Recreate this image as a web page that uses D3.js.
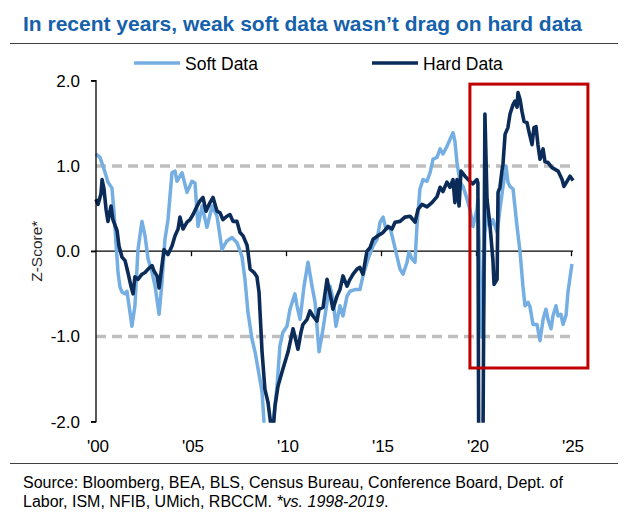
<!DOCTYPE html>
<html><head><meta charset="utf-8">
<script src="https://cdn.jsdelivr.net/npm/d3@7/dist/d3.min.js"></script>
<style>
body{margin:0;background:#fff}
svg{display:block}
text{font-family:"Liberation Sans",Arial,Helvetica,sans-serif}
</style>
</head><body>
<svg id="chart" width="624" height="532"></svg>
<script>
// ---------- DATA ----------
const titleText = "In recent years, weak soft data wasn\u2019t drag on hard data";
const seriesNames = ["Soft Data", "Hard Data"];
const softYears = [2000.00,2000.21,2000.47,2000.63,2000.84,2000.95,2001.05,2001.16,2001.26,2001.37,2001.53,2001.63,2001.79,2001.89,2002.05,2002.21,2002.42,2002.58,2002.74,2002.95,2003.11,2003.32,2003.47,2003.63,2003.79,2004.00,2004.16,2004.26,2004.53,2004.79,2005.05,2005.21,2005.37,2005.58,2005.84,2006.11,2006.37,2006.63,2006.89,2007.16,2007.42,2007.68,2007.84,2008.00,2008.21,2008.37,2008.53,2008.74,2008.84,2009.00,2009.26,2009.53,2009.68,2009.84,2010.05,2010.21,2010.47,2010.58,2010.74,2010.95,2011.16,2011.37,2011.53,2011.74,2011.95,2012.16,2012.32,2012.47,2012.63,2012.84,2013.00,2013.21,2013.37,2013.63,2013.89,2014.05,2014.32,2014.58,2014.79,2014.95,2015.11,2015.26,2015.47,2015.63,2015.84,2016.00,2016.16,2016.37,2016.47,2016.63,2016.79,2016.89,2017.05,2017.21,2017.42,2017.58,2017.74,2017.95,2018.11,2018.26,2018.47,2018.63,2018.79,2018.89,2019.00,2019.16,2019.32,2019.42,2019.53,2019.68,2019.84,2020.05,2020.10,2020.21,2020.32,2020.37,2020.47,2020.63,2020.74,2020.89,2021.11,2021.26,2021.42,2021.58,2021.68,2021.79,2021.95,2022.16,2022.32,2022.47,2022.58,2022.74,2022.84,2023.00,2023.21,2023.37,2023.53,2023.68,2023.79,2023.95,2024.05,2024.21,2024.32,2024.47,2024.58,2024.74,2024.84,2025.05];
const softValues = [1.14,1.10,0.93,0.81,0.74,0.45,0.10,-0.25,-0.42,-0.48,-0.50,-0.47,-0.72,-0.88,-0.64,0.02,0.35,0.18,-0.09,-0.25,-0.41,-0.74,-0.37,0.14,0.37,0.92,0.94,0.82,0.92,0.69,0.82,0.80,0.29,0.53,0.28,0.53,0.41,0.02,0.12,0.16,0.10,-0.06,-0.33,-0.72,-1.03,-1.18,-1.38,-1.65,-2.00,-2.30,-2.15,-1.58,-1.11,-0.95,-0.88,-0.68,-0.50,-0.64,-0.80,-0.41,-0.13,-0.41,-0.60,-1.18,-0.91,-0.60,-0.41,-0.56,-0.88,-0.64,-0.76,-0.53,-0.47,-0.45,-0.45,-0.29,-0.09,0.06,0.14,0.34,0.40,0.26,0.28,0.14,-0.06,-0.21,-0.27,-0.13,-0.01,-0.09,-0.13,0.29,0.73,0.84,0.82,0.92,1.08,1.10,1.20,1.14,1.23,1.31,1.39,1.29,1.04,0.81,0.76,0.69,0.61,0.49,0.29,0.49,0.61,-0.20,-1.01,-0.95,0.22,0.46,0.29,0.37,0.22,0.49,0.76,1.00,0.81,0.76,0.73,0.29,-0.01,-0.41,-0.64,-0.60,-0.65,-0.86,-0.86,-1.05,-0.80,-0.68,-0.80,-0.91,-0.76,-0.64,-0.76,-0.74,-0.86,-0.75,-0.48,-0.15];
const hardYears = [2000.00,2000.11,2000.26,2000.32,2000.42,2000.53,2000.63,2000.79,2000.89,2001.11,2001.21,2001.37,2001.53,2001.68,2001.84,2001.95,2002.05,2002.21,2002.42,2002.58,2002.74,2002.95,2003.05,2003.21,2003.32,2003.47,2003.58,2003.79,2004.00,2004.16,2004.32,2004.42,2004.58,2004.79,2004.95,2005.11,2005.32,2005.47,2005.63,2005.79,2006.00,2006.16,2006.37,2006.53,2006.68,2006.89,2007.05,2007.21,2007.42,2007.58,2007.74,2007.95,2008.00,2008.11,2008.32,2008.47,2008.58,2008.74,2008.89,2009.05,2009.21,2009.32,2009.42,2009.58,2009.84,2010.11,2010.37,2010.47,2010.63,2010.79,2010.89,2011.11,2011.26,2011.42,2011.63,2011.74,2011.95,2012.16,2012.37,2012.47,2012.68,2012.84,2013.00,2013.21,2013.37,2013.53,2013.74,2013.89,2014.05,2014.26,2014.42,2014.58,2014.84,2015.11,2015.37,2015.58,2015.74,2016.00,2016.26,2016.53,2016.79,2016.95,2017.16,2017.42,2017.68,2017.95,2018.11,2018.26,2018.47,2018.63,2018.79,2018.89,2019.00,2019.11,2019.21,2019.42,2019.68,2019.84,2020.05,2020.10,2020.16,2020.32,2020.47,2020.58,2020.74,2020.89,2020.95,2021.11,2021.16,2021.26,2021.37,2021.42,2021.53,2021.68,2021.79,2021.95,2022.05,2022.16,2022.21,2022.32,2022.42,2022.53,2022.68,2022.79,2022.95,2023.05,2023.16,2023.26,2023.37,2023.53,2023.63,2023.79,2024.00,2024.16,2024.32,2024.53,2024.63,2024.79,2024.95,2025.11];
const hardValues = [0.61,0.55,0.67,0.84,0.73,0.49,0.35,0.53,0.37,0.24,0.06,-0.07,-0.11,-0.25,-0.41,-0.50,-0.30,-0.33,-0.27,-0.25,-0.21,-0.17,-0.23,-0.29,-0.43,-0.17,0.02,-0.04,0.06,0.18,0.26,0.40,0.26,0.34,0.37,0.43,0.53,0.59,0.63,0.47,0.57,0.63,0.47,0.45,0.37,0.41,0.43,0.35,0.35,0.22,0.18,0.07,-0.01,-0.21,-0.25,-0.30,-0.48,-1.18,-1.62,-1.77,-2.05,-2.10,-1.82,-1.58,-1.38,-1.18,-0.91,-1.00,-1.15,-0.95,-0.86,-0.80,-0.70,-0.76,-0.82,-0.68,-0.66,-0.33,-0.56,-0.68,-0.53,-0.45,-0.29,-0.41,-0.33,-0.27,-0.21,-0.19,-0.27,0.00,0.04,0.14,0.18,0.22,0.29,0.26,0.34,0.35,0.40,0.41,0.34,0.49,0.55,0.52,0.57,0.64,0.75,0.70,0.81,0.75,0.84,0.57,0.84,0.53,0.94,0.88,0.82,0.79,0.84,0.80,-3.50,-4.00,1.61,0.61,0.29,-0.10,-0.39,-0.33,0.69,0.75,0.95,1.02,1.37,1.45,1.61,1.72,1.76,1.69,1.86,1.78,1.64,1.52,1.51,1.40,1.25,1.45,1.46,1.25,1.08,1.20,1.05,1.04,0.98,0.96,0.94,0.84,0.76,0.82,0.88,0.83];
const xTickYears = [2000, 2005, 2010, 2015, 2020, 2025];
const xTickLabels = ["'00", "'05", "'10", "'15", "'20", "'25"];
const yTickValues = [2, 1, 0, -1, -2];
const yTickLabels = ["2.0", "1.0", "0.0", "-1.0", "-2.0"];
const refLevels = [1, -1];
const highlightYears = [2019.68, 2025.89];
const highlightValues = [1.96, -1.37];
const yAxisTitle = "Z-Score*";
const sourceLine1 = "Source: Bloomberg, BEA, BLS, Census Bureau, Conference Board, Dept. of";
const sourceLine2a = "Labor, ISM, NFIB, UMich, RBCCM. ";
const sourceLine2b = "*vs. 1998-2019";

// ---------- CHART ----------
const svg = d3.select("#chart");
const softColor = "#74aee3", hardColor = "#0b2b58";

const x = d3.scaleLinear().domain([2000, 2025]).range([96, 571]);
const y = d3.scaleLinear().domain([-2, 2]).range([421.7, 80.7]);

// title
svg.append("text").attr("x", 23).attr("y", 31)
  .attr("font-size", 21).attr("font-weight", "bold").attr("fill", "#1661ab")
  .text(titleText);
svg.append("line").attr("x1", 10).attr("x2", 618).attr("y1", 43.5).attr("y2", 43.5)
  .attr("stroke", "#404040").attr("stroke-width", 1);

// legend
const legendX = [134, 372];
const colors = [softColor, hardColor];
seriesNames.forEach((n, i) => {
  svg.append("line").attr("x1", legendX[i]).attr("x2", legendX[i] + 46)
    .attr("y1", 63).attr("y2", 63).attr("stroke", colors[i]).attr("stroke-width", 3.5);
  svg.append("text").attr("x", legendX[i] + 51).attr("y", 69.5)
    .attr("font-size", 17.5).attr("fill", "#000").text(n);
});

// clip
svg.append("clipPath").attr("id", "plotclip").append("rect")
  .attr("x", 90).attr("y", y(2) - 2).attr("width", 510).attr("height", y(-2) - y(2) + 3);

// reference dashed lines
svg.append("g").selectAll("line").data(refLevels).join("line")
  .attr("x1", x(2000)).attr("x2", 575)
  .attr("y1", d => y(d)).attr("y2", d => y(d))
  .attr("stroke", "#bfbfbf").attr("stroke-width", 3.5).attr("stroke-dasharray", "10,6");

// zero line with x ticks
const zeroG = svg.append("g").attr("transform", `translate(0,${y(0)})`);
const xAxis = d3.axisBottom(x).tickValues(xTickYears.slice(1)).tickSize(5).tickFormat("");
zeroG.call(xAxis);
zeroG.select(".domain").attr("d", `M91,0H573`).attr("stroke", "#000").attr("stroke-width", 1.3);
zeroG.selectAll(".tick line").attr("stroke", "#000").attr("stroke-width", 1.3);

// x labels
svg.append("g").selectAll("text").data(xTickYears).join("text")
  .attr("x", (d) => x(d) + 2).attr("y", 452)
  .attr("text-anchor", "middle").attr("font-size", 17).attr("fill", "#000")
  .text((d, i) => xTickLabels[i]);

// lines
const lineGen = d3.line().x(d => x(d[0])).y(d => y(d[1]));
const plot = svg.append("g").attr("clip-path", "url(#plotclip)");
plot.append("path").datum(d3.zip(softYears, softValues))
  .attr("d", lineGen).attr("fill", "none").attr("stroke", softColor)
  .attr("stroke-width", 3.5).attr("stroke-linejoin", "round");
plot.append("path").datum(d3.zip(hardYears, hardValues))
  .attr("d", lineGen).attr("fill", "none").attr("stroke", hardColor)
  .attr("stroke-width", 3.6).attr("stroke-linejoin", "round");

// y axis
const yAxis = d3.axisLeft(y).tickValues(yTickValues).tickSize(5)
  .tickFormat((d, i) => yTickLabels[i]);
const yG = svg.append("g").attr("transform", `translate(${x(2000)},0)`).call(yAxis);
yG.select(".domain").attr("stroke", "#000").attr("stroke-width", 1.3).attr("d", `M-5,${y(2)}H0V${y(-2)}H-5`);
yG.selectAll(".tick line").attr("stroke", (d) => (d === 1 || d === -1) ? "none" : "#000").attr("stroke-width", 1.3);
yG.selectAll(".tick text").attr("x", -16).attr("font-size", 17)
  .attr("font-family", '"Liberation Sans",Arial,sans-serif').attr("fill", "#000");

svg.append("text").attr("transform", `translate(42,${y(0)}) rotate(-90)`)
  .attr("text-anchor", "middle").attr("font-size", 15.5).attr("fill", "#2a2a2a")
  .text(yAxisTitle);

// highlight box
svg.append("rect")
  .attr("x", x(highlightYears[0])).attr("y", y(highlightValues[0]))
  .attr("width", x(highlightYears[1]) - x(highlightYears[0]))
  .attr("height", y(highlightValues[1]) - y(highlightValues[0]))
  .attr("fill", "none").attr("stroke", "#c00000").attr("stroke-width", 3);

// footer
svg.append("line").attr("x1", 10).attr("x2", 618).attr("y1", 463.5).attr("y2", 463.5)
  .attr("stroke", "#404040").attr("stroke-width", 1);
svg.append("text").attr("x", 23).attr("y", 488).attr("font-size", 16).attr("fill", "#000").text(sourceLine1);
const t2 = svg.append("text").attr("x", 23).attr("y", 507).attr("font-size", 16).attr("fill", "#000");
t2.append("tspan").text(sourceLine2a);
t2.append("tspan").attr("font-style", "italic").text(sourceLine2b);
t2.append("tspan").text(".");
</script>
</body></html>
